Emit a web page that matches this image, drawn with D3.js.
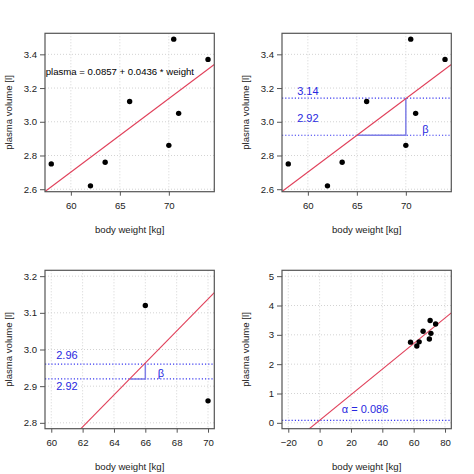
<!DOCTYPE html>
<html lang="en">
<head>
    <meta charset="utf-8">
    <title>Plasma volume vs body weight</title>
    <script src="https://d3js.org/d3.v7.min.js"></script>
    <style>
        body { margin: 0; background: #fff; }
        text { font-family: "Liberation Sans", Arial, Helvetica, sans-serif; }
    </style>
</head>
<body>
<div id="chart"></div>
<script>
    // Data
    const weight = [58, 70, 74, 63.5, 62, 70.5, 71, 66];
    const plasma = [2.75, 2.86, 3.37, 2.76, 2.62, 3.49, 3.05, 3.12];
    const intercept = 0.0857, slope = 0.0436;

    // Tick labels per panel
    const ticksXWide = [60, 65, 70];
    const ticksYWide = [2.6, 2.8, 3.0, 3.2, 3.4];
    const ticksXZoom = [60, 62, 64, 66, 68, 70];
    const ticksYZoom = [2.8, 2.9, 3.0, 3.1, 3.2];
    const ticksXFull = [-20, 0, 20, 40, 60, 80];
    const ticksYFull = [0, 1, 2, 3, 4, 5];

    // Annotation values
    const hLines2 = [3.14, 2.92];
    const hLines3 = [2.96, 2.92];
    const hLines4 = [0.086];

    const size = 474, cell = 237;
    const box = {left: 45, right: 214.3, top: 33.3, bottom: 191.7};

    const fit = x => intercept + slope * x;
    // R style axis range: data range extended by 4%
    const pad = ([a, b]) => [a - (b - a) * 0.04, b + (b - a) * 0.04];

    const panels = [
        {
            col: 0, row: 0, xlim: d3.extent(weight), ylim: d3.extent(plasma),
            xt: ticksXWide, yt: ticksYWide, yf: d3.format(".1f"),
            labels: [{x: 65, y: 3.3, t: "plasma = 0.0857 + 0.0436 * weight", c: "#000", s: 9.6}]
        },
        {
            col: 1, row: 0, xlim: d3.extent(weight), ylim: d3.extent(plasma),
            xt: ticksXWide, yt: ticksYWide, yf: d3.format(".1f"),
            hl: hLines2, tri: [65, 70],
            labels: [
                {x: 60, y: 3.185, t: "3.14"},
                {x: 60, y: 3.022, t: "2.92"},
                {x: 72, y: 2.957, t: "β"}
            ]
        },
        {
            col: 0, row: 1, xlim: [60, 70], ylim: [2.8, 3.2],
            xt: ticksXZoom, yt: ticksYZoom, yf: d3.format(".1f"),
            hl: hLines3, tri: [65, 66],
            labels: [
                {x: 61, y: 2.985, t: "2.96"},
                {x: 61, y: 2.900, t: "2.92"},
                {x: 67, y: 2.936, t: "β"}
            ]
        },
        {
            col: 1, row: 1, xlim: [-20, 80], ylim: [0, 5],
            xt: ticksXFull, yt: ticksYFull, yf: d3.format("d"),
            hl: hLines4,
            labels: [{x: 29, y: 0.455, t: "α = 0.086"}]
        }
    ];

    const svg = d3.select("#chart")
        .append("svg")
        .attr("width", size)
        .attr("height", size);

    panels.forEach((p, i) => {
        const g = svg.append("g")
            .attr("transform", `translate(${p.col * cell},${p.row * cell})`);

        const x = d3.scaleLinear().domain(pad(p.xlim)).range([box.left, box.right]);
        const y = d3.scaleLinear().domain(pad(p.ylim)).range([box.bottom, box.top]);

        g.append("clipPath").attr("id", "clip" + i)
            .append("rect")
            .attr("x", box.left).attr("y", box.top)
            .attr("width", box.right - box.left).attr("height", box.bottom - box.top);

        const inner = g.append("g").attr("clip-path", `url(#clip${i})`);

        // grid
        inner.selectAll(".gx").data(p.xt).join("line")
            .attr("x1", d => x(d)).attr("x2", d => x(d))
            .attr("y1", box.top).attr("y2", box.bottom)
            .attr("stroke", "#d3d3d3").attr("stroke-dasharray", "1,2");
        inner.selectAll(".gy").data(p.yt).join("line")
            .attr("y1", d => y(d)).attr("y2", d => y(d))
            .attr("x1", box.left).attr("x2", box.right)
            .attr("stroke", "#d3d3d3").attr("stroke-dasharray", "1,2");

        // blue horizontal reference lines
        if (p.hl) {
            inner.selectAll(".hl").data(p.hl).join("line")
                .attr("y1", d => y(d)).attr("y2", d => y(d))
                .attr("x1", box.left).attr("x2", box.right)
                .attr("stroke", "#3b3bf0").attr("stroke-width", 1.2)
                .attr("stroke-dasharray", "1.2,2");
        }

        // slope triangle
        if (p.tri) {
            const [a, b] = p.tri;
            inner.append("path")
                .attr("d", d3.line()([[x(a), y(fit(a))], [x(b), y(fit(a))], [x(b), y(fit(b))]]))
                .attr("fill", "none")
                .attr("stroke", "#7f7fe6")
                .attr("stroke-width", 1.5);
        }

        // regression line
        const [x0, x1] = x.domain();
        inner.append("path")
            .datum([x0, x1])
            .attr("d", d3.line().x(d => x(d)).y(d => y(fit(d))))
            .attr("stroke", "#e0405a")
            .attr("stroke-width", 1.1)
            .attr("fill", "none");

        // points
        inner.selectAll(".dot")
            .data(weight.map((w, k) => [w, plasma[k]]))
            .join("circle")
            .attr("cx", d => x(d[0]))
            .attr("cy", d => y(d[1]))
            .attr("r", 2.7)
            .attr("fill", "#000");

        // axes
        const xAxis = g.append("g")
            .attr("transform", `translate(0,${box.bottom})`)
            .call(d3.axisBottom(x).tickValues(p.xt).tickSize(4).tickPadding(6).tickFormat(d3.format("d")));
        const yAxis = g.append("g")
            .attr("transform", `translate(${box.left},0)`)
            .call(d3.axisLeft(y).tickValues(p.yt).tickSize(5).tickPadding(3).tickFormat(p.yf));
        [xAxis, yAxis].forEach(ax => {
            ax.select(".domain").remove();
            ax.selectAll("line").attr("stroke", "#555");
            ax.selectAll("text").attr("fill", "#222").style("font-size", "9.6px")
                .style("font-family", '"Liberation Sans", Arial, sans-serif');
        });

        // box
        g.append("rect")
            .attr("x", box.left).attr("y", box.top)
            .attr("width", box.right - box.left).attr("height", box.bottom - box.top)
            .attr("fill", "none").attr("stroke", "#555").attr("stroke-width", 1.2);

        // titles
        g.append("text")
            .attr("x", (box.left + box.right) / 2).attr("y", 233)
            .attr("text-anchor", "middle").attr("fill", "#222")
            .style("font-size", "9.6px")
            .text("body weight [kg]");
        g.append("text")
            .attr("transform", `translate(12,${(box.top + box.bottom) / 2}) rotate(-90)`)
            .attr("text-anchor", "middle").attr("fill", "#222")
            .style("font-size", "9.6px")
            .text("plasma volume [l]");

        // annotations
        g.selectAll(".lab").data(p.labels).join("text")
            .attr("x", d => x(d.x)).attr("y", d => y(d.y))
            .attr("text-anchor", "middle")
            .attr("dominant-baseline", "central")
            .attr("fill", d => d.c || "#2828e0")
            .style("font-size", d => (d.s || 11) + "px")
            .text(d => d.t);
    });
</script>
</body>
</html>
